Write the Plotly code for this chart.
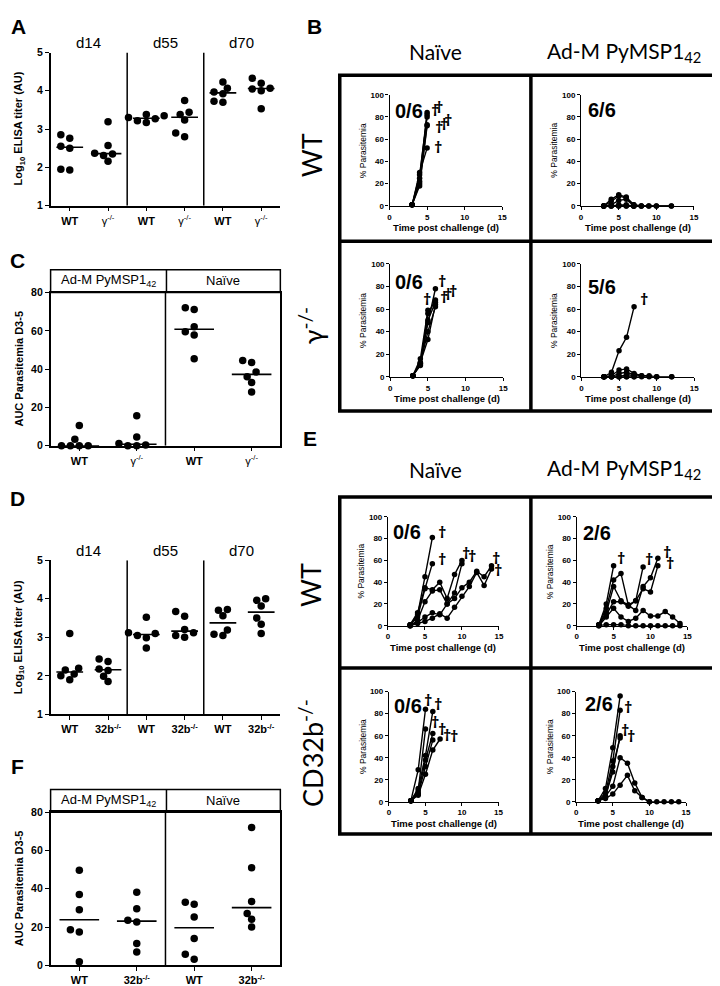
import plotly.graph_objects as go
import numpy as np

W, H = 720, 986


def fx(x):
    return x / W


def fy(y):
    return 1 - y / H


# ---------------- DATA ----------------
# Panel A  (log10 ELISA titer, WT vs IFN-gamma-/-)
A_days = ["d14", "d55", "d70"]
A_labels = ["<b>WT</b>", "γ<sup>-/-</sup>"]
A_d14_wt = [1.93, 1.95, 2.50, 2.55, 2.76, 2.85]
A_d14_ko = [2.16, 2.31, 2.35, 2.37, 2.57, 3.19]
A_d55_wt = [3.17, 3.22, 3.27, 3.30, 3.35, 3.38]
A_d55_ko = [2.80, 2.90, 3.24, 3.38, 3.44, 3.75]
A_d70_wt = [3.70, 3.73, 3.92, 3.97, 4.07, 4.23]
A_d70_ko = [3.53, 4.00, 4.05, 4.07, 4.20, 4.33]

# Panel C  (AUC parasitemia D3-5)
C_headers = ["Ad-M PyMSP1<sub>42</sub>", "Naïve"]
C_labels = ["<b>WT</b>", "γ<sup>-/-</sup>"]
C_adm_wt = [0, 0, 0, 0, 3.3, 10.5]
C_adm_ko = [0, 0, 0.3, 1.2, 4.5, 15.6]
C_naive_wt = [45.4, 57.8, 59.5, 62.1, 71.1, 72.1]
C_naive_ko = [28.0, 33.0, 36.0, 38.5, 43.5, 44.5]

# Panel D  (log10 ELISA titer, WT vs CD32b-/-)
D_days = ["d14", "d55", "d70"]
D_labels = ["<b>WT</b>", "<b>32b<sup>-/-</sup></b>"]
D_d14_wt = [1.90, 2.00, 2.05, 2.15, 2.20, 3.10]
D_d14_ko = [1.85, 1.99, 2.14, 2.18, 2.37, 2.44]
D_d55_wt = [2.72, 2.99, 3.05, 3.10, 3.12, 3.52]
D_d55_ko = [3.00, 3.05, 3.12, 3.20, 3.55, 3.67]
D_d70_wt = [3.05, 3.08, 3.19, 3.56, 3.70, 3.72]
D_d70_ko = [3.10, 3.34, 3.50, 3.81, 3.96, 4.00]

# Panel F  (AUC parasitemia D3-5)
F_headers = ["Ad-M PyMSP1<sub>42</sub>", "Naïve"]
F_labels = ["<b>WT</b>", "<b>32b<sup>-/-</sup></b>"]
F_adm_wt = [1.9, 17.4, 18.6, 29.0, 37.0, 49.6]
F_adm_ko = [6.9, 11.4, 22.6, 23.5, 29.5, 38.1]
F_naive_wt = [3.1, 5.7, 14.0, 25.2, 31.9, 32.9]
F_naive_ko = [20.0, 24.0, 27.0, 33.3, 51.0, 72.0]

# Panel B  (% parasitemia per mouse; days, values)
B_wt_naive_days = [[3, 4, 5]] * 6
B_wt_naive_vals = [[1, 25, 84], [1, 22, 82], [1, 28, 80], [1, 20, 73], [1, 18, 72], [1, 30, 52]]
B_wt_naive_dagger_x = [6.1, 6.6, 6.6, 7.25, 7.85, 6.4]
B_wt_naive_dagger_y = [86, 89, 71, 74, 77, 53]

B_wt_adm_days = [[3, 4, 5, 6, 7, 8, 9, 10, 12], [3, 4, 5, 6, 7, 8, 9, 10, 12],
                 [3, 4, 5, 6, 7, 8], [3, 4, 5, 6, 7], [3, 4, 5, 6, 7], [3, 4, 5, 6, 7]]
B_wt_adm_vals = [[0, 6, 10, 8, 1, 0, 0, 0, 0], [0, 4, 9, 7, 1, 0, 0, 0, 0],
                 [0, 1, 5, 6, 0, 0], [0, 0, 0, 0, 0], [0, 0, 1, 1, 0], [0, 0, 0, 0, 0]]
B_wt_adm_dagger_x = []
B_wt_adm_dagger_y = []

B_ko_naive_days = [[3, 4, 5], [3, 4, 5, 6], [3, 4, 5, 6], [3, 4, 5, 6], [3, 4, 5, 6], [3, 4, 5, 6]]
B_ko_naive_vals = [[1, 16, 59], [1, 12, 48, 78], [1, 11, 56, 68], [1, 10, 50, 66], [1, 13, 33, 64], [1, 12, 40, 62]]
B_ko_naive_dagger_x = [4.9, 6.9, 7.1, 7.7, 8.4]
B_ko_naive_dagger_y = [69, 85, 71, 73, 76]

B_ko_adm_days = [[3, 4, 5, 6, 7], [3, 4, 5, 6, 7, 8, 9, 10, 12], [3, 4, 5, 6, 7, 8, 9, 10, 12],
                 [3, 4, 5, 6, 7, 8], [3, 4, 5, 6, 7], [3, 4, 5, 6, 7]]
B_ko_adm_vals = [[0, 4, 23, 35, 62], [0, 1, 6, 7, 3, 1, 1, 0, 0], [0, 0, 3, 4, 2, 1, 0, 0, 0],
                 [0, 0, 0, 2, 1, 0], [0, 0, 0, 0, 0], [0, 0, 0, 0, 0]]
B_ko_adm_dagger_x = [8.3]
B_ko_adm_dagger_y = [69]

# Panel E
E_wt_naive_days = [[3, 4, 5, 6], [3, 4, 5, 6], [3, 4, 5, 6, 7, 8, 9, 10], [3, 4, 5, 6, 7, 8, 9, 10],
                   [3, 4, 5, 6, 7, 8, 9, 10, 11, 12, 13, 14], [3, 4, 5, 6, 7, 8, 9, 10, 11, 12, 13, 14]]
E_wt_naive_vals = [[1, 10, 45, 81], [1, 8, 34, 57], [1, 12, 35, 33, 40, 25, 47, 60], [0, 5, 22, 32, 33, 20, 30, 57],
                   [0, 3, 8, 12, 10, 20, 25, 35, 40, 50, 45, 55], [0, 2, 4, 7, 11, 7, 17, 27, 36, 49, 37, 52]]
E_wt_naive_dagger_x = [7.3, 7.3, 10.6, 11.4, 14.6, 14.9]
E_wt_naive_dagger_y = [86, 61, 67, 64, 62, 51]

E_wt_adm_days = [[3, 4, 5], [3, 4, 5, 6, 7, 8, 9], [3, 4, 5, 6, 7, 8, 9, 10, 11], [3, 4, 5, 6, 7, 8, 9, 10, 11],
                 [3, 4, 5, 6, 7, 8, 9, 10, 11, 12, 13, 14], [3, 4, 5, 6, 7, 8, 9, 10, 11, 12, 13, 14]]
E_wt_adm_vals = [[1, 20, 55], [1, 16, 42, 48, 19, 23, 54], [1, 12, 36, 23, 19, 14, 36, 44, 62],
                 [1, 10, 22, 22, 18, 23, 34, 31, 55],
                 [0, 8, 16, 8, 4, 7, 14, 9, 9, 13, 8, 2], [0, 1, 1, 1, 0, 0, 0, 0, 0, 0, 0, 0]]
E_wt_adm_dagger_x = [6.0, 9.8, 12.2, 12.6]
E_wt_adm_dagger_y = [62, 61, 68, 58]

E_ko_naive_days = [[3, 4, 5], [3, 4, 5, 6], [3, 4, 5], [3, 4, 5, 6], [3, 4, 5, 6], [3, 4, 5, 6, 7]]
E_ko_naive_vals = [[1, 29, 84], [1, 12, 42, 82], [1, 10, 66], [1, 8, 38, 62], [1, 7, 32, 56], [1, 6, 25, 47, 57]]
E_ko_naive_dagger_x = [5.4, 6.7, 6.3, 7.3, 8.0, 8.9]
E_ko_naive_dagger_y = [92, 89, 72, 66, 61, 60]

E_ko_adm_days = [[3, 4, 5, 6], [3, 4, 5, 6], [3, 4, 5, 6], [3, 4, 5, 6],
                 [3, 4, 5, 6, 7, 8, 9, 10, 11, 12, 13, 14], [3, 4, 5, 6, 7, 8, 9, 10]]
E_ko_adm_vals = [[1, 12, 49, 96], [1, 8, 37, 83], [1, 5, 27, 60], [1, 4, 32, 58],
                 [1, 5, 14, 40, 35, 17, 4, 0, 0, 0, 0, 0], [1, 3, 7, 15, 24, 10, 4, 0]]
E_ko_adm_dagger_x = [7.1, 7.1, 6.6, 7.5]
E_ko_adm_dagger_y = [103, 86, 65, 60]

# ---------------- FIGURE ----------------
fig = go.Figure()
layout = dict(width=W, height=H, margin=dict(l=0, r=0, t=0, b=0),
              paper_bgcolor="white", plot_bgcolor="rgba(0,0,0,0)", showlegend=False,
              font=dict(family="Liberation Sans, Arial, sans-serif", color="black"))
shapes = []
annotations = []
counter = [0]
ARIAL = "Liberation Sans, Arial, sans-serif"
HEAD = "Lato, Open Sans, sans-serif"


def new_axes(x0, x1, ybot, ytop, xr, yr, xopts, yopts):
    counter[0] += 1
    n = counter[0]
    xn = "xaxis" if n == 1 else f"xaxis{n}"
    yn = "yaxis" if n == 1 else f"yaxis{n}"
    xr_ = "x" if n == 1 else f"x{n}"
    yr_ = "y" if n == 1 else f"y{n}"
    base = dict(showgrid=False, zeroline=False, showline=True, linecolor="black",
                fixedrange=True)
    layout[xn] = dict(base, domain=[fx(x0), fx(x1)], range=xr, anchor=yr_, **xopts)
    layout[yn] = dict(base, domain=[fy(ybot), fy(ytop)], range=yr, anchor=xr_, **yopts)
    return xr_, yr_


def ann(text, x, y, size, bold=False, family=ARIAL, angle=0, xanchor="center"):
    annotations.append(dict(text=f"<b>{text}</b>" if bold else text, x=fx(x), y=fy(y),
                            xref="paper", yref="paper", showarrow=False,
                            font=dict(size=size, family=family, color="black"),
                            textangle=angle, xanchor=xanchor, yanchor="middle"))


def swarm(vals, ppu_y, step=4.5, dmin=7.0):
    order = np.argsort(vals, kind="stable")
    placed = []
    offs = [0.0] * len(vals)
    cands = [0.0]
    for k in range(1, 9):
        cands += [-k * step, k * step]
    for i in order:
        yp = vals[i] * ppu_y
        for c in cands:
            if all((c - a) ** 2 + (yp - b) ** 2 >= dmin ** 2 for a, b in placed):
                offs[i] = c
                placed.append((c, yp))
                break
    return offs


def strip_panel(x0, x1, ybot, ytop, yr, yticks, groups, labels, med_px, header=None,
                seps=(), mirror=False):
    ngroups = len(groups)
    xr = [0, ngroups]
    ppu_x = (x1 - x0) / ngroups
    ppu_y = (ybot - ytop) / (yr[1] - yr[0])
    xopts = dict(tickmode="array", tickvals=[i + 0.5 for i in range(ngroups)],
                 ticktext=labels * (ngroups // 2), ticks="outside", ticklen=4,
                 tickwidth=1.3, linewidth=1.5, tickcolor="black",
                 tickfont=dict(size=11, family=ARIAL), mirror=mirror)
    yopts = dict(tickmode="array", tickvals=yticks, ticktext=[f"<b>{v}</b>" for v in yticks],
                 ticks="outside", ticklen=4, tickwidth=1.3, linewidth=1.5, tickcolor="black",
                 tickfont=dict(size=10.5, family=ARIAL), mirror=mirror)
    xa, ya = new_axes(x0, x1, ybot, ytop, xr, yr, xopts, yopts)
    for gi, vals in enumerate(groups):
        c = gi + 0.5
        offs = swarm(vals, ppu_y)
        fig.add_trace(go.Scatter(x=[c + o / ppu_x for o in offs], y=vals, mode="markers",
                                 marker=dict(size=7.5, color="black"), xaxis=xa, yaxis=ya,
                                 cliponaxis=False, hoverinfo="skip"))
        m = float(np.median(vals))
        hw = med_px / 2 / ppu_x
        fig.add_trace(go.Scatter(x=[c - hw, c + hw], y=[m, m], mode="lines",
                                 line=dict(color="black", width=1.6), xaxis=xa, yaxis=ya,
                                 cliponaxis=False, hoverinfo="skip"))
    for s in seps:
        shapes.append(dict(type="line", xref=xa, yref=ya, x0=s, x1=s, y0=yr[0], y1=yr[1],
                           line=dict(color="black", width=1.5)))
    return xa, ya


# ---- Panel A ----
strip_panel(41, 273, 194, 39, [1, 5], [1, 2, 3, 4, 5],
            [A_d14_wt, A_d14_ko, A_d55_wt, A_d55_ko, A_d70_wt, A_d70_ko], A_labels, 27,
            seps=(2, 4))
for i, d in enumerate(A_days):
    ann(d, 41 + (i + 0.5) * 77.3, 29, 15)
ann("Log<sub>10</sub> ELISA titer (AU)", 9, 116, 11, bold=True, angle=-90)
ann("A", 9, 13, 21, bold=True)

# ---- Panel C ----
strip_panel(41, 273, 437, 282, [0, 80], [0, 20, 40, 60, 80],
            [C_adm_wt, C_adm_ko, C_naive_wt, C_naive_ko], C_labels, 40, seps=(2,), mirror=True)
shapes.append(dict(type="rect", xref="paper", yref="paper", x0=fx(41), x1=fx(273),
                   y0=fy(282), y1=fy(259), line=dict(color="black", width=1.5)))
shapes.append(dict(type="line", xref="paper", yref="paper", x0=fx(158), x1=fx(158),
                   y0=fy(282), y1=fy(259), line=dict(color="black", width=1.5)))
ann(C_headers[0], 99.5, 270, 13)
ann(C_headers[1], 215.5, 270, 13)
ann("AUC Parasitemia D3-5", 9, 359, 11, bold=True, angle=-90)
ann("C", 8, 250, 21, bold=True)

# ---- Panel D ----
strip_panel(41, 273, 709, 553, [1, 5], [1, 2, 3, 4, 5],
            [D_d14_wt, D_d14_ko, D_d55_wt, D_d55_ko, D_d70_wt, D_d70_ko], D_labels, 27,
            seps=(2, 4))
for i, d in enumerate(D_days):
    ann(d, 41 + (i + 0.5) * 77.3, 543, 15)
ann("Log<sub>10</sub> ELISA titer (AU)", 9, 631, 11, bold=True, angle=-90)
ann("D", 8, 490, 21, bold=True)

# ---- Panel F ----
strip_panel(41, 273, 963, 808, [0, 80], [0, 20, 40, 60, 80],
            [F_adm_wt, F_adm_ko, F_naive_wt, F_naive_ko], F_labels, 40, seps=(2,), mirror=True)
shapes.append(dict(type="rect", xref="paper", yref="paper", x0=fx(41), x1=fx(273),
                   y0=fy(808), y1=fy(785), line=dict(color="black", width=1.5)))
shapes.append(dict(type="line", xref="paper", yref="paper", x0=fx(158), x1=fx(158),
                   y0=fy(808), y1=fy(785), line=dict(color="black", width=1.5)))
ann(F_headers[0], 99.5, 796, 13)
ann(F_headers[1], 215.5, 796, 13)
ann("AUC Parasitemia D3-5", 9, 885, 11, bold=True, angle=-90)
ann("F", 8, 762, 21, bold=True)


# ---- mini parasitemia plots ----
def mini(x0, x15, y0, y100, days, vals, dx, dy, frac, frac_xy):
    xopts = dict(tickmode="array", tickvals=[0, 5, 10, 15],
                 ticktext=["<b>0</b>", "<b>5</b>", "<b>10</b>", "<b>15</b>"],
                 ticks="outside", ticklen=3, tickwidth=1, linewidth=1.2, tickcolor="black",
                 tickfont=dict(size=8, family=ARIAL))
    yopts = dict(tickmode="array", tickvals=[0, 20, 40, 60, 80, 100],
                 ticktext=[f"<b>{v}</b>" for v in [0, 20, 40, 60, 80, 100]],
                 ticks="outside", ticklen=3, tickwidth=1, linewidth=1.2, tickcolor="black",
                 tickfont=dict(size=8, family=ARIAL))
    xa, ya = new_axes(x0, x15, y0, y100, [0, 15], [0, 100], xopts, yopts)
    for d, v in zip(days, vals):
        fig.add_trace(go.Scatter(x=d, y=v, mode="lines+markers",
                                 line=dict(color="black", width=1.4),
                                 marker=dict(size=5.5, color="black"),
                                 xaxis=xa, yaxis=ya, cliponaxis=False, hoverinfo="skip"))
    for a, b in zip(dx, dy):
        annotations.append(dict(text="<b>†</b>", x=a, y=b, xref=xa, yref=ya, showarrow=False,
                                font=dict(size=16, family="Noto Sans, DejaVu Sans",
                                          color="black"), textangle=1,
                                xanchor="center", yanchor="middle"))
    ann("Time post challenge (d)", (x0 + x15) / 2, y0 + 22, 9.5, bold=True)
    ann("% Parasitemia", x0 - 27, (y0 + y100) / 2, 8.5, angle=-90)
    ann(frac, frac_xy[0], frac_xy[1], 20, bold=True)


# Panel B
mini(383.3, 497, 194.3, 81.7, B_wt_naive_days, B_wt_naive_vals,
     B_wt_naive_dagger_x, B_wt_naive_dagger_y, "0/6", (403, 98))
mini(576.7, 690.7, 194.3, 81.7, B_wt_adm_days, B_wt_adm_vals,
     B_wt_adm_dagger_x, B_wt_adm_dagger_y, "6/6", (598, 97))
mini(384, 498, 367.3, 253, B_ko_naive_days, B_ko_naive_vals,
     B_ko_naive_dagger_x, B_ko_naive_dagger_y, "0/6", (403, 271))
mini(577, 691, 367.3, 253, B_ko_adm_days, B_ko_adm_vals,
     B_ko_adm_dagger_x, B_ko_adm_dagger_y, "5/6", (598, 276))

# Panel E
mini(381.7, 493.7, 619.3, 509, E_wt_naive_days, E_wt_naive_vals,
     E_wt_naive_dagger_x, E_wt_naive_dagger_y, "0/6", (401, 524))
mini(572.3, 684, 619.3, 509, E_wt_adm_days, E_wt_adm_vals,
     E_wt_adm_dagger_x, E_wt_adm_dagger_y, "2/6", (593, 525))
mini(382.7, 493.3, 797.5, 686, E_ko_naive_days, E_ko_naive_vals,
     E_ko_naive_dagger_x, E_ko_naive_dagger_y, "0/6", (402, 701))
mini(571.7, 682.7, 797.5, 686, E_ko_adm_days, E_ko_adm_vals,
     E_ko_adm_dagger_x, E_ko_adm_dagger_y, "2/6", (595, 699))

# thick grid boxes for B and E
for top, mid, bot in [(62, 230, 402), (489, 662, 830)]:
    shapes.append(dict(type="rect", xref="paper", yref="paper", x0=fx(333), x1=fx(718),
                       y0=fy(bot), y1=fy(top), line=dict(color="black", width=3.5)))
    shapes.append(dict(type="line", xref="paper", yref="paper", x0=fx(526), x1=fx(526),
                       y0=fy(bot), y1=fy(top), line=dict(color="black", width=3.5)))
    shapes.append(dict(type="line", xref="paper", yref="paper", x0=fx(333), x1=fx(718),
                       y0=fy(mid), y1=fy(mid), line=dict(color="black", width=3.5)))

# headers and row labels
ann("B", 307, 13, 21, bold=True)
ann("Naïve", 430, 38, 21, family=HEAD)
ann("Ad-M PyMSP1<sub>42</sub>", 620, 38, 21, family=HEAD)
ann("WT", 304, 143, 27, family=HEAD, angle=-90)
ann("γ<sup>-/-</sup>", 304, 316, 27, family=HEAD, angle=-90)

ann("E", 303, 430, 21, bold=True)
ann("Naïve", 430, 461, 21, family=HEAD)
ann("Ad-M PyMSP1<sub>42</sub>", 620, 461, 21, family=HEAD)
ann("WT", 304, 578, 27, family=HEAD, angle=-90)
ann("CD32b<sup>-/-</sup>", 304, 748, 27, family=HEAD, angle=-90)

layout["shapes"] = shapes
layout["annotations"] = annotations
fig.update_layout(**layout)
fig.write_html("out.html")
